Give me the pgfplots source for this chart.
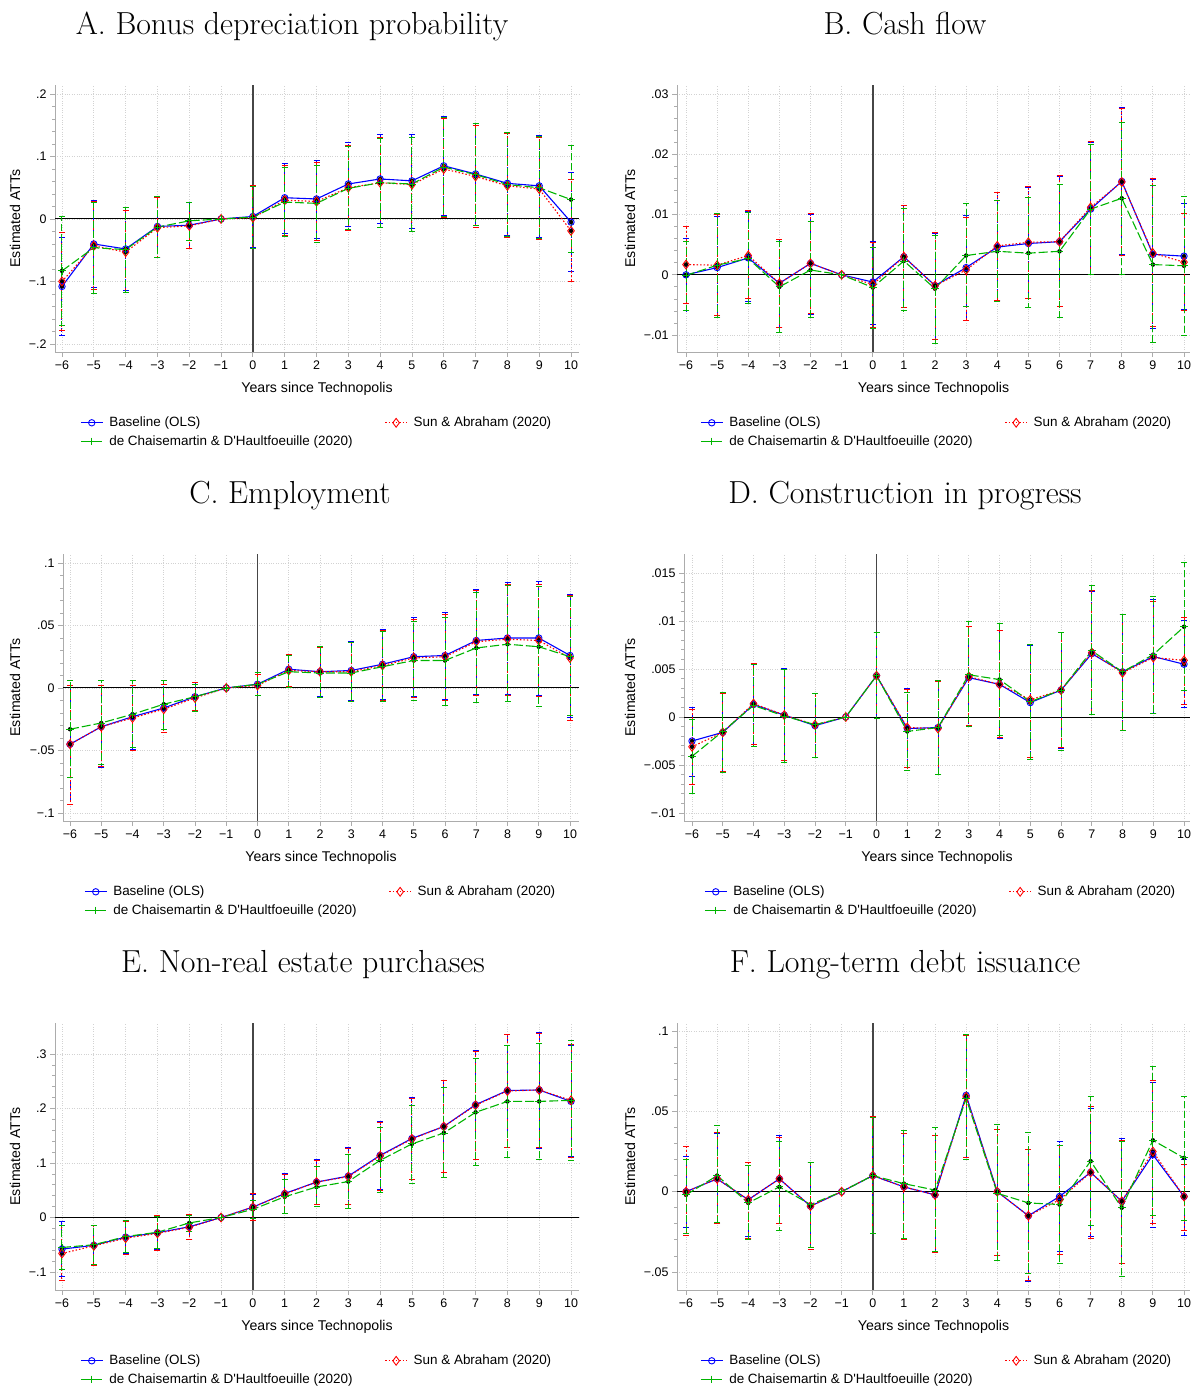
\documentclass[border=0pt]{standalone}
\usepackage{fontspec}
\usepackage{pgfplots}
\usepackage{pgfplotstable}
\pgfplotsset{compat=1.18}
\newfontfamily\arial{Liberation Sans}
\definecolor{sgreen}{RGB}{0,180,0}

% columns: x, baseline (b, lo, hi), Sun & Abraham (s, lo, hi), dCDH (d, lo, hi)
\pgfplotstableread{
x b bl bh s sl sh d dl dh
-6 -0.108 -0.187 -0.029 -0.100 -0.178 -0.021 -0.083 -0.171 0.004
-5 -0.040 -0.110 0.030 -0.043 -0.113 0.028 -0.046 -0.120 0.027
-4 -0.048 -0.115 0.018 -0.053 -0.117 0.013 -0.049 -0.118 0.018
-3 -0.012 -0.061 0.036 -0.014 -0.062 0.035 -0.013 -0.062 0.036
-2 -0.010 -0.047 0.026 -0.011 -0.047 0.026 -0.003 -0.034 0.027
-1 0 0 0 0 0 0 0 0 0
0 0.004 -0.046 0.054 0.002 -0.047 0.053 0.003 -0.047 0.052
1 0.034 -0.023 0.089 0.030 -0.026 0.086 0.027 -0.028 0.082
2 0.032 -0.032 0.094 0.028 -0.034 0.090 0.025 -0.037 0.086
3 0.056 -0.012 0.122 0.050 -0.018 0.117 0.049 -0.017 0.116
4 0.064 -0.007 0.135 0.058 -0.013 0.130 0.058 -0.013 0.129
5 0.061 -0.016 0.135 0.055 -0.020 0.131 0.056 -0.020 0.131
6 0.085 0.006 0.164 0.080 0.002 0.160 0.083 0.004 0.163
7 0.072 -0.010 0.152 0.068 -0.013 0.150 0.071 -0.011 0.152
8 0.057 -0.027 0.139 0.053 -0.029 0.136 0.055 -0.028 0.138
9 0.053 -0.030 0.134 0.048 -0.033 0.130 0.050 -0.032 0.132
10 -0.005 -0.084 0.074 -0.019 -0.100 0.063 0.031 -0.054 0.117
}\tabA

\pgfplotstableread{
x b bl bh s sl sh d dl dh
-6 0.0000 -0.0060 0.0060 0.0017 -0.0047 0.0081 -0.0001 -0.0060 0.0055
-5 0.0012 -0.0070 0.0097 0.0016 -0.0068 0.0100 0.0016 -0.0070 0.0102
-4 0.0028 -0.0045 0.0105 0.0032 -0.0040 0.0106 0.0027 -0.0048 0.0103
-3 -0.0014 -0.0088 0.0058 -0.0014 -0.0088 0.0059 -0.0020 -0.0096 0.0055
-2 0.0019 -0.0065 0.0100 0.0019 -0.0064 0.0101 0.0008 -0.0070 0.0089
-1 0 0 0 0 0 0 0 0 0
0 -0.0012 -0.0082 0.0056 -0.0016 -0.0087 0.0054 -0.0021 -0.0089 0.0045
1 0.0030 -0.0054 0.0115 0.0030 -0.0055 0.0115 0.0023 -0.0060 0.0110
2 -0.0018 -0.0108 0.0068 -0.0018 -0.0108 0.0070 -0.0023 -0.0114 0.0066
3 0.0012 -0.0075 0.0098 0.0008 -0.0076 0.0095 0.0032 -0.0053 0.0118
4 0.0046 -0.0043 0.0136 0.0048 -0.0042 0.0137 0.0039 -0.0045 0.0124
5 0.0052 -0.0040 0.0145 0.0054 -0.0039 0.0147 0.0036 -0.0055 0.0128
6 0.0055 -0.0053 0.0163 0.0055 -0.0052 0.0164 0.0039 -0.0071 0.0150
7 0.0109 0.0000 0.0220 0.0112 0.0001 0.0222 0.0109 0.0000 0.0216
8 0.0155 0.0033 0.0277 0.0154 0.0032 0.0276 0.0127 0.0001 0.0253
9 0.0034 -0.0089 0.0158 0.0036 -0.0086 0.0159 0.0017 -0.0113 0.0148
10 0.0031 -0.0057 0.0119 0.0021 -0.0060 0.0102 0.0015 -0.0101 0.0130
}\tabB

\pgfplotstableread{
x b bl bh s sl sh d dl dh
-6 -0.045 -0.093 0.002 -0.045 -0.093 0.002 -0.033 -0.072 0.006
-5 -0.031 -0.064 0.002 -0.031 -0.063 0.002 -0.028 -0.061 0.006
-4 -0.023 -0.049 0.002 -0.024 -0.050 0.002 -0.021 -0.048 0.006
-3 -0.016 -0.036 0.003 -0.017 -0.036 0.003 -0.013 -0.033 0.006
-2 -0.007 -0.018 0.004 -0.008 -0.018 0.004 -0.007 -0.019 0.003
-1 0 0 0 0 0 0 0 0 0
0 0.003 -0.006 0.012 0.002 -0.006 0.011 0.003 -0.006 0.012
1 0.015 0.001 0.027 0.014 0.001 0.027 0.013 0.000 0.026
2 0.013 -0.007 0.033 0.013 -0.008 0.032 0.012 -0.008 0.033
3 0.014 -0.010 0.037 0.013 -0.011 0.036 0.012 -0.011 0.036
4 0.019 -0.009 0.047 0.018 -0.010 0.046 0.017 -0.011 0.045
5 0.025 -0.007 0.056 0.024 -0.008 0.055 0.022 -0.010 0.053
6 0.026 -0.009 0.060 0.025 -0.010 0.059 0.022 -0.014 0.056
7 0.038 -0.005 0.079 0.037 -0.006 0.078 0.032 -0.012 0.076
8 0.040 -0.005 0.084 0.039 -0.006 0.083 0.035 -0.011 0.082
9 0.040 -0.006 0.085 0.038 -0.007 0.083 0.033 -0.015 0.081
10 0.026 -0.024 0.075 0.024 -0.026 0.074 0.025 -0.022 0.073
}\tabC

\pgfplotstableread{
x b bl bh s sl sh d dl dh
-6 -0.0025 -0.0062 0.0010 -0.0031 -0.0070 0.0008 -0.0041 -0.0080 -0.0003
-5 -0.0016 -0.0057 0.0025 -0.0016 -0.0057 0.0025 -0.0015 -0.0058 0.0026
-4 0.0013 -0.0029 0.0055 0.0014 -0.0029 0.0056 0.0012 -0.0031 0.0055
-3 0.0002 -0.0045 0.0050 0.0002 -0.0045 0.0049 0.0001 -0.0047 0.0049
-2 -0.0009 -0.0042 0.0024 -0.0008 -0.0042 0.0025 -0.0008 -0.0042 0.0024
-1 0 0 0 0 0 0 0 0 0
0 0.0043 -0.0002 0.0088 0.0043 -0.0002 0.0088 0.0043 -0.0002 0.0088
1 -0.0012 -0.0053 0.0030 -0.0011 -0.0053 0.0029 -0.0015 -0.0056 0.0026
2 -0.0011 -0.0060 0.0037 -0.0012 -0.0060 0.0037 -0.0011 -0.0060 0.0038
3 0.0041 -0.0010 0.0094 0.0042 -0.0009 0.0094 0.0044 -0.0010 0.0099
4 0.0034 -0.0022 0.0090 0.0034 -0.0021 0.0090 0.0039 -0.0019 0.0097
5 0.0015 -0.0044 0.0074 0.0018 -0.0042 0.0076 0.0016 -0.0044 0.0075
6 0.0028 -0.0033 0.0088 0.0028 -0.0032 0.0088 0.0028 -0.0035 0.0088
7 0.0066 0.0003 0.0131 0.0067 0.0003 0.0132 0.0069 0.0003 0.0137
8 0.0047 -0.0014 0.0107 0.0046 -0.0014 0.0107 0.0047 -0.0014 0.0107
9 0.0063 0.0004 0.0122 0.0062 0.0004 0.0120 0.0065 0.0004 0.0126
10 0.0055 0.0010 0.0100 0.0059 0.0013 0.0104 0.0094 0.0028 0.0161
}\tabD

\pgfplotstableread{
x b bl bh s sl sh d dl dh
-6 -0.058 -0.109 -0.007 -0.066 -0.116 -0.015 -0.055 -0.096 -0.014
-5 -0.051 -0.087 -0.014 -0.052 -0.088 -0.015 -0.050 -0.086 -0.015
-4 -0.036 -0.066 -0.006 -0.038 -0.068 -0.007 -0.035 -0.065 -0.006
-3 -0.028 -0.059 0.003 -0.029 -0.060 0.003 -0.027 -0.056 0.002
-2 -0.017 -0.040 0.006 -0.018 -0.041 0.006 -0.010 -0.025 0.004
-1 0 0 0 0 0 0 0 0 0
0 0.019 -0.006 0.043 0.019 -0.006 0.044 0.015 -0.001 0.032
1 0.044 0.008 0.080 0.043 0.007 0.079 0.038 0.007 0.070
2 0.065 0.024 0.106 0.065 0.023 0.105 0.056 0.020 0.093
3 0.076 0.024 0.128 0.075 0.023 0.127 0.066 0.017 0.115
4 0.114 0.051 0.176 0.113 0.050 0.175 0.105 0.045 0.165
5 0.145 0.070 0.220 0.144 0.069 0.219 0.135 0.063 0.206
6 0.167 0.082 0.252 0.167 0.082 0.251 0.155 0.074 0.238
7 0.207 0.107 0.306 0.206 0.106 0.305 0.193 0.095 0.292
8 0.233 0.129 0.336 0.232 0.128 0.335 0.213 0.110 0.316
9 0.234 0.127 0.340 0.234 0.128 0.338 0.213 0.106 0.320
10 0.213 0.112 0.315 0.215 0.111 0.317 0.215 0.105 0.325
}\tabE

\pgfplotstableread{
x b bl bh s sl sh d dl dh
-6 0.000 -0.022 0.022 0.000 -0.027 0.028 -0.002 -0.026 0.020
-5 0.008 -0.020 0.036 0.008 -0.020 0.037 0.010 -0.019 0.041
-4 -0.005 -0.028 0.018 -0.005 -0.029 0.018 -0.007 -0.030 0.016
-3 0.008 -0.020 0.035 0.008 -0.020 0.034 0.003 -0.024 0.031
-2 -0.009 -0.035 0.018 -0.009 -0.036 0.018 -0.008 -0.035 0.018
-1 0 0 0 0 0 0 0 0 0
0 0.010 -0.026 0.047 0.010 -0.026 0.047 0.010 -0.026 0.046
1 0.003 -0.029 0.036 0.003 -0.030 0.036 0.005 -0.029 0.038
2 -0.002 -0.038 0.035 -0.002 -0.038 0.035 0.001 -0.037 0.040
3 0.060 0.021 0.098 0.059 0.021 0.097 0.058 0.020 0.098
4 0.000 -0.040 0.039 0.000 -0.040 0.039 -0.001 -0.043 0.042
5 -0.015 -0.056 0.026 -0.015 -0.055 0.026 -0.007 -0.051 0.037
6 -0.003 -0.037 0.031 -0.005 -0.039 0.029 -0.008 -0.045 0.029
7 0.012 -0.028 0.052 0.012 -0.029 0.053 0.019 -0.021 0.059
8 -0.006 -0.045 0.033 -0.006 -0.045 0.032 -0.010 -0.053 0.031
9 0.023 -0.022 0.068 0.025 -0.020 0.069 0.032 -0.015 0.078
10 -0.003 -0.027 0.020 -0.003 -0.024 0.017 0.021 -0.018 0.059
}\tabF

\pgfplotsset{
  panel/.style={
    scale only axis, anchor=south west, height=267bp,
    axis x line*=bottom, axis y line*=left,
    axis line style={gray!65, line width=0.8bp, -},
    tick style={gray!65, line width=0.8bp},
    tick align=outside, major tick length=5bp, minor tick length=3bp,
    scaled y ticks=false,
    xtick={-6,...,10},
    xticklabels={−6,−5,−4,−3,−2,−1,0,1,2,3,4,5,6,7,8,9,10},
    minor y tick num=4,
    grid=major, major grid style={gray!35, dotted, line width=0.8bp},
    tick label style={font=\arial\fontsize{12.5}{14}\selectfont, black},
    label style={font=\arial\fontsize{14.2}{17}\selectfont},
    xlabel={Years since Technopolis}, ylabel={Estimated ATTs},
    xlabel style={at={(axis description cs:0.5,-0.1386)}, anchor=center},
    legend columns=2, legend cell align=left,
    legend style={at={(axis description cs:0,0)}, anchor=north west,
      yshift=-63bp, draw=none, fill=none, inner sep=0pt,
      font=\arial\fontsize{13.5}{16}\selectfont, row sep=3.5bp,
      /tikz/every odd column/.append style={column sep=4bp},
      /tikz/every even column/.append style={column sep=30bp}},
    legend image code/.code={\draw[mark repeat=2, mark phase=2, ##1]
      plot coordinates {(0bp,0bp) (11bp,0bp) (22bp,0bp)};},
  },
}

\newcommand\drawpanel[1]{%
  \draw[black, line width=1bp] ({rel axis cs:0,0} |- {axis cs:0,0}) -- ({rel axis cs:1,0} |- {axis cs:0,0});
  \draw[gray!55!black, line width=1.6bp] ({axis cs:0,0} |- {rel axis cs:0,0}) -- ({axis cs:0,0} |- {rel axis cs:0,1});
  \addplot[forget plot, only marks, mark=none, skip coords between index={5}{6},
    error bars/.cd, y dir=both, y explicit,
    error bar style={blue, line width=1bp, dash pattern=on 4bp off 2bp},
    error mark options={rotate=90, blue, solid, line width=1bp, mark size=3bp}]
    table[x=x, y=b, y error plus expr=\thisrow{bh}-\thisrow{b}, y error minus expr=\thisrow{b}-\thisrow{bl}] {#1};
  \addplot[forget plot, only marks, mark=none, skip coords between index={5}{6},
    error bars/.cd, y dir=both, y explicit,
    error bar style={red, line width=1bp, dash pattern=on 2bp off 2bp},
    error mark options={rotate=90, red, solid, line width=1bp, mark size=3bp}]
    table[x=x, y=s, y error plus expr=\thisrow{sh}-\thisrow{s}, y error minus expr=\thisrow{s}-\thisrow{sl}] {#1};
  \addplot[forget plot, only marks, mark=none, skip coords between index={5}{6},
    error bars/.cd, y dir=both, y explicit,
    error bar style={sgreen, line width=1bp, dash pattern=on 7bp off 3bp},
    error mark options={rotate=90, sgreen, solid, line width=1bp, mark size=3bp}]
    table[x=x, y=d, y error plus expr=\thisrow{dh}-\thisrow{d}, y error minus expr=\thisrow{d}-\thisrow{dl}] {#1};
  \addplot[blue, line width=1.1bp, mark=o, mark size=3.2bp,
    mark options={solid, line width=0.9bp}] table[x=x, y=b] {#1};
  \addplot[red, line width=1.1bp, dash pattern=on 1.5bp off 2bp, mark=diamond,
    mark size=4.4bp, mark options={solid, line width=0.9bp}] table[x=x, y=s] {#1};
  \addplot[sgreen, line width=1.1bp, dash pattern=on 9bp off 3bp, mark=+,
    mark size=3.8bp, mark options={solid, line width=0.9bp}] table[x=x, y=d] {#1};
  \legend{Baseline (OLS), Sun \& Abraham (2020), de Chaisemartin \& D'Haultfoeuille (2020)}
}

\begin{document}
\begin{tikzpicture}[x=1bp, y=1bp]
\useasboundingbox (0,0) rectangle (1192,1388);

\begin{scope}[font=\fontsize{32}{38}\selectfont]
\node[anchor=base] at (292,1353) {A. Bonus depreciation probability};
\node[anchor=base] at (905,1353) {B. Cash flow};
\node[anchor=base] at (290,884) {C. Employment};
\node[anchor=base] at (905,884) {D. Construction in progress};
\node[anchor=base] at (303,415) {E. Non-real estate purchases};
\node[anchor=base] at (905,415) {F. Long-term debt issuance};
\end{scope}

% A
\begin{axis}[panel, at={(55bp,1036bp)}, width=524bp,
  xmin=-6.220, xmax=10.251, ymin=-0.2128, ymax=0.2144,
  ytick={-0.2,-0.1,0,0.1,0.2}, yticklabels={−.2,−.1,0,.1,.2},
  ylabel style={at={(axis description cs:-0.0763,0.5)}, anchor=center},
  legend style={xshift=25bp}]
\drawpanel{\tabA}
\end{axis}

% B
\begin{axis}[panel, at={(677bp,1036bp)}, width=513bp,
  xmin=-6.289, xmax=10.193, ymin=-0.0128, ymax=0.0315,
  ytick={-0.01,0,0.01,0.02,0.03}, yticklabels={−.01,0,.01,.02,.03},
  ylabel style={at={(axis description cs:-0.0916,0.5)}, anchor=center},
  legend style={xshift=23bp}]
\drawpanel{\tabB}
\end{axis}

% C
\begin{axis}[panel, at={(63bp,567bp)}, width=516bp,
  xmin=-6.224, xmax=10.288, ymin=-0.1064, ymax=0.1072,
  ytick={-0.1,-0.05,0,0.05,0.1}, yticklabels={−.1,−.05,0,.05,.1},
  ylabel style={at={(axis description cs:-0.093,0.5)}, anchor=center},
  legend style={xshift=21bp}]
\drawpanel{\tabC}
\end{axis}

% D
\begin{axis}[panel, at={(684bp,567bp)}, width=506bp,
  xmin=-6.26, xmax=10.195, ymin=-0.01083, ymax=0.01698,
  ytick={-0.01,-0.005,0,0.005,0.01,0.015}, yticklabels={−.01,−.005,0,.005,.01,.015},
  ylabel style={at={(axis description cs:-0.1067,0.5)}, anchor=center},
  legend style={xshift=20bp}]
\drawpanel{\tabD}
\end{axis}

% E
\begin{axis}[panel, at={(55bp,98bp)}, width=524bp,
  xmin=-6.220, xmax=10.251, ymin=-0.133, ymax=0.3569,
  ytick={-0.1,0,0.1,0.2,0.3}, yticklabels={−.1,0,.1,.2,.3},
  ylabel style={at={(axis description cs:-0.0763,0.5)}, anchor=center},
  legend style={xshift=25bp}]
\drawpanel{\tabE}
\end{axis}

% F
\begin{axis}[panel, at={(677bp,98bp)}, width=513bp,
  xmin=-6.289, xmax=10.193, ymin=-0.0612, ymax=0.105,
  ytick={-0.05,0,0.05,0.1}, yticklabels={−.05,0,.05,.1},
  ylabel style={at={(axis description cs:-0.0916,0.5)}, anchor=center},
  legend style={xshift=23bp}]
\drawpanel{\tabF}
\end{axis}
\end{tikzpicture}
\end{document}
